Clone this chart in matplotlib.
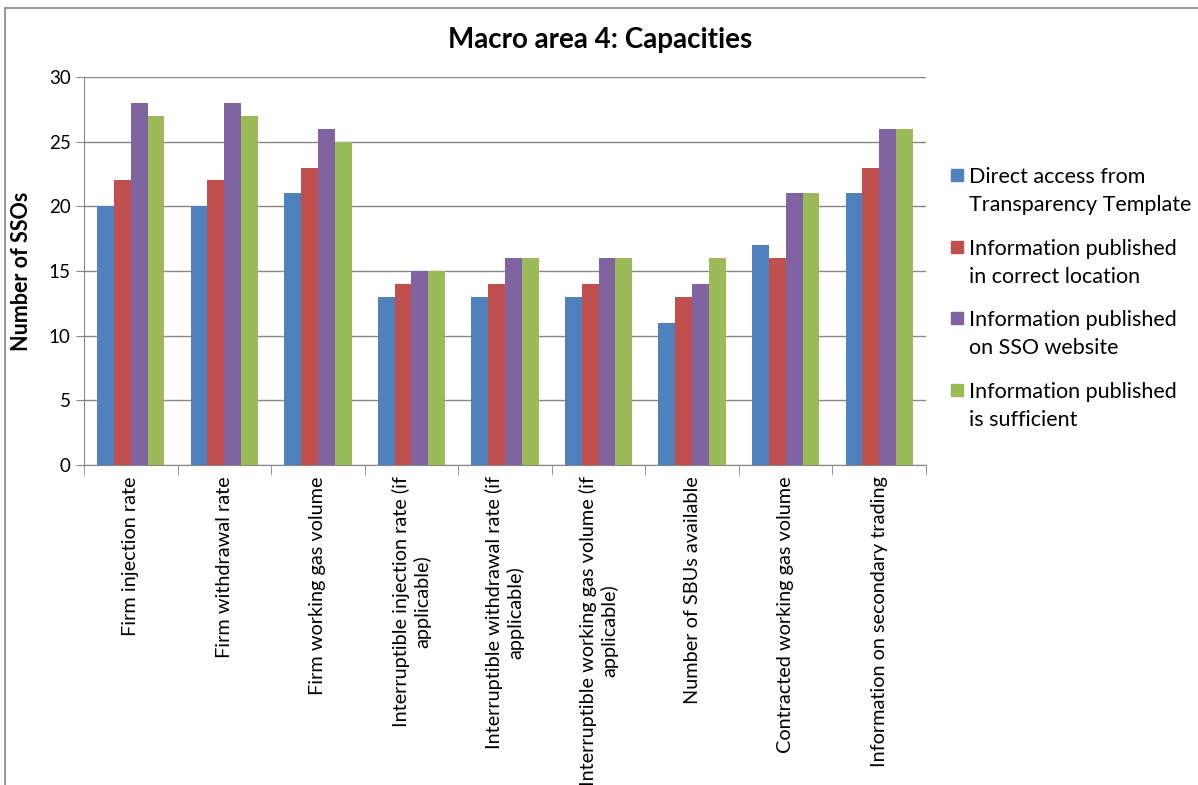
import numpy as np
import matplotlib.pyplot as plt
from matplotlib.patches import Rectangle

plt.rcParams['font.family'] = ['Lato', 'DejaVu Sans']

categories = ['Firm injection rate',
              'Firm withdrawal rate',
              'Firm working gas volume',
              'Interruptible injection rate (if\napplicable)',
              'Interruptible withdrawal rate (if\napplicable)',
              'Interruptible working gas volume (if\napplicable)',
              'Number of SBUs available',
              'Contracted working gas volume',
              'Information on secondary trading']
series_names = ['Direct access from\nTransparency Template',
                'Information published\nin correct location',
                'Information published\non SSO website',
                'Information published\nis sufficient']
direct_access = [20, 20, 21, 13, 13, 13, 11, 17, 21]
correct_location = [22, 22, 23, 14, 14, 14, 13, 16, 23]
on_website = [28, 28, 26, 15, 16, 16, 14, 21, 26]
sufficient = [27, 27, 25, 15, 16, 16, 16, 21, 26]
colors = ['#4F81BD', '#C0504D', '#8064A2', '#9BBB59']

W, H = 1198, 785
fig = plt.figure(figsize=(W / 100, H / 100), dpi=100)
ax = fig.add_axes([84/W, 1 - 465/H, 842/W, 388/H])

# outer chart border
fig.patches.append(Rectangle((5/W, -0.1), 1.2, 1 - 8/H + 0.1,
                             transform=fig.transFigure, fill=False,
                             edgecolor='#868686', linewidth=1.2))

x = np.arange(len(categories))
w = 0.18
bars = []
for i, vals in enumerate([direct_access, correct_location, on_website, sufficient]):
    bars.append(ax.bar(x + (i - 1.5) * w, vals, w, color=colors[i], zorder=3))

ax.set_xlim(-0.5, len(categories) - 0.5)
ax.set_ylim(0, 30)
ax.set_yticks(range(0, 31, 5))
ax.grid(axis='y', color='#868686', linewidth=1, zorder=0)
for s in ['top', 'right']:
    ax.spines[s].set_visible(False)
for s in ['left', 'bottom']:
    ax.spines[s].set_color('#868686')
ax.tick_params(axis='y', colors='#868686', labelcolor='black', labelsize=13.5, length=6)
ax.set_xticks(np.arange(len(categories) + 1) - 0.5, minor=True)
ax.tick_params(axis='x', which='minor', colors='#868686', length=7)
ax.set_xticks(x)
ax.set_xticklabels(categories, rotation=90, ha='center', va='top',
                   multialignment='center', fontsize=14.3)
ax.tick_params(axis='x', which='major', length=0, pad=8)

ax.set_ylabel('Number of SSOs', fontsize=15.5, fontweight='bold')
ax.yaxis.set_label_coords((32 - 84) / 842, 0.5)
fig.text(600/W, 1 - 40/H, 'Macro area 4: Capacities', ha='center', va='center',
         fontsize=20, fontweight='bold')

# legend: square key next to the first line of each two-line label
for i, name in enumerate(series_names):
    y0 = 175 + i * 71.7
    fig.patches.append(Rectangle((951/W, 1 - (y0 + 6)/H), 12/W, 12/H,
                                 transform=fig.transFigure,
                                 color=bars[i].patches[0].get_facecolor()))
    for j, line in enumerate(name.split('\n')):
        fig.text(969/W, 1 - (y0 + j * 28)/H, line, ha='left', va='center_baseline',
                 fontsize=15.5)

fig.savefig('out.png', dpi=100)
